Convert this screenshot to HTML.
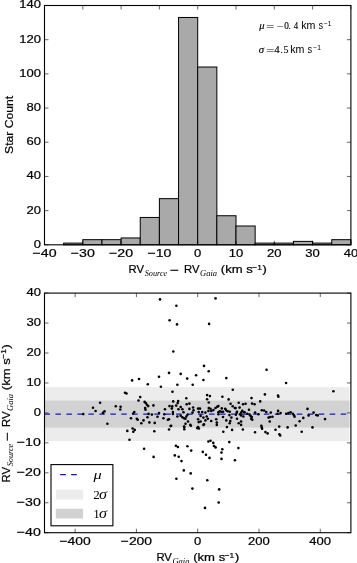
<!DOCTYPE html><html><head><meta charset="utf-8"><style>html,body{margin:0;padding:0;background:#fff;}svg{display:block;will-change:transform}text{stroke:#000;stroke-width:0.22px}text.s{stroke:none}text.m{stroke-width:0.12px}</style></head><body>
<svg width="357" height="563" viewBox="0 0 357 563" font-family='"Liberation Sans", sans-serif'>
<rect width="357" height="563" fill="#fff"/>
<rect x="63.65" y="243.09" width="19.15" height="1.71" fill="#a9a9a9" stroke="#000" stroke-width="1"/>
<rect x="82.80" y="239.67" width="19.15" height="5.13" fill="#a9a9a9" stroke="#000" stroke-width="1"/>
<rect x="101.95" y="239.67" width="19.15" height="5.13" fill="#a9a9a9" stroke="#000" stroke-width="1"/>
<rect x="121.10" y="237.96" width="19.15" height="6.84" fill="#a9a9a9" stroke="#000" stroke-width="1"/>
<rect x="140.25" y="217.45" width="19.15" height="27.35" fill="#a9a9a9" stroke="#000" stroke-width="1"/>
<rect x="159.40" y="198.65" width="19.15" height="46.15" fill="#a9a9a9" stroke="#000" stroke-width="1"/>
<rect x="178.55" y="17.47" width="19.15" height="227.34" fill="#a9a9a9" stroke="#000" stroke-width="1"/>
<rect x="197.70" y="67.03" width="19.15" height="177.77" fill="#a9a9a9" stroke="#000" stroke-width="1"/>
<rect x="216.85" y="215.74" width="19.15" height="29.06" fill="#a9a9a9" stroke="#000" stroke-width="1"/>
<rect x="236.00" y="226.00" width="19.15" height="18.80" fill="#a9a9a9" stroke="#000" stroke-width="1"/>
<rect x="255.15" y="243.09" width="19.15" height="1.71" fill="#a9a9a9" stroke="#000" stroke-width="1"/>
<rect x="274.30" y="243.09" width="19.15" height="1.71" fill="#a9a9a9" stroke="#000" stroke-width="1"/>
<rect x="293.45" y="241.38" width="19.15" height="3.42" fill="#a9a9a9" stroke="#000" stroke-width="1"/>
<rect x="312.60" y="243.09" width="19.15" height="1.71" fill="#a9a9a9" stroke="#000" stroke-width="1"/>
<rect x="331.75" y="239.67" width="19.15" height="5.13" fill="#a9a9a9" stroke="#000" stroke-width="1"/>
<line x1="44.50" y1="5.50" x2="44.50" y2="9.50" stroke="#000" stroke-width="0.6"/><line x1="44.50" y1="244.80" x2="44.50" y2="240.80" stroke="#000" stroke-width="0.6"/><line x1="82.80" y1="5.50" x2="82.80" y2="9.50" stroke="#000" stroke-width="0.6"/><line x1="82.80" y1="244.80" x2="82.80" y2="240.80" stroke="#000" stroke-width="0.6"/><line x1="121.10" y1="5.50" x2="121.10" y2="9.50" stroke="#000" stroke-width="0.6"/><line x1="121.10" y1="244.80" x2="121.10" y2="240.80" stroke="#000" stroke-width="0.6"/><line x1="159.40" y1="5.50" x2="159.40" y2="9.50" stroke="#000" stroke-width="0.6"/><line x1="159.40" y1="244.80" x2="159.40" y2="240.80" stroke="#000" stroke-width="0.6"/><line x1="197.70" y1="5.50" x2="197.70" y2="9.50" stroke="#000" stroke-width="0.6"/><line x1="197.70" y1="244.80" x2="197.70" y2="240.80" stroke="#000" stroke-width="0.6"/><line x1="236.00" y1="5.50" x2="236.00" y2="9.50" stroke="#000" stroke-width="0.6"/><line x1="236.00" y1="244.80" x2="236.00" y2="240.80" stroke="#000" stroke-width="0.6"/><line x1="274.30" y1="5.50" x2="274.30" y2="9.50" stroke="#000" stroke-width="0.6"/><line x1="274.30" y1="244.80" x2="274.30" y2="240.80" stroke="#000" stroke-width="0.6"/><line x1="312.60" y1="5.50" x2="312.60" y2="9.50" stroke="#000" stroke-width="0.6"/><line x1="312.60" y1="244.80" x2="312.60" y2="240.80" stroke="#000" stroke-width="0.6"/><line x1="350.90" y1="5.50" x2="350.90" y2="9.50" stroke="#000" stroke-width="0.6"/><line x1="350.90" y1="244.80" x2="350.90" y2="240.80" stroke="#000" stroke-width="0.6"/><line x1="44.50" y1="244.80" x2="48.50" y2="244.80" stroke="#000" stroke-width="0.6"/><line x1="350.90" y1="244.80" x2="346.90" y2="244.80" stroke="#000" stroke-width="0.6"/><line x1="44.50" y1="210.61" x2="48.50" y2="210.61" stroke="#000" stroke-width="0.6"/><line x1="350.90" y1="210.61" x2="346.90" y2="210.61" stroke="#000" stroke-width="0.6"/><line x1="44.50" y1="176.43" x2="48.50" y2="176.43" stroke="#000" stroke-width="0.6"/><line x1="350.90" y1="176.43" x2="346.90" y2="176.43" stroke="#000" stroke-width="0.6"/><line x1="44.50" y1="142.24" x2="48.50" y2="142.24" stroke="#000" stroke-width="0.6"/><line x1="350.90" y1="142.24" x2="346.90" y2="142.24" stroke="#000" stroke-width="0.6"/><line x1="44.50" y1="108.06" x2="48.50" y2="108.06" stroke="#000" stroke-width="0.6"/><line x1="350.90" y1="108.06" x2="346.90" y2="108.06" stroke="#000" stroke-width="0.6"/><line x1="44.50" y1="73.87" x2="48.50" y2="73.87" stroke="#000" stroke-width="0.6"/><line x1="350.90" y1="73.87" x2="346.90" y2="73.87" stroke="#000" stroke-width="0.6"/><line x1="44.50" y1="39.69" x2="48.50" y2="39.69" stroke="#000" stroke-width="0.6"/><line x1="350.90" y1="39.69" x2="346.90" y2="39.69" stroke="#000" stroke-width="0.6"/><line x1="44.50" y1="5.50" x2="48.50" y2="5.50" stroke="#000" stroke-width="0.6"/><line x1="350.90" y1="5.50" x2="346.90" y2="5.50" stroke="#000" stroke-width="0.6"/><rect x="44.50" y="5.50" width="306.40" height="239.30" fill="none" stroke="#000" stroke-width="1.1"/>
<text x="44.50" y="257.40" font-size="11.6" text-anchor="middle" textLength="24.05" lengthAdjust="spacingAndGlyphs">−40</text>
<text x="82.80" y="257.40" font-size="11.6" text-anchor="middle" textLength="24.05" lengthAdjust="spacingAndGlyphs">−30</text>
<text x="121.10" y="257.40" font-size="11.6" text-anchor="middle" textLength="24.05" lengthAdjust="spacingAndGlyphs">−20</text>
<text x="159.40" y="257.40" font-size="11.6" text-anchor="middle" textLength="24.05" lengthAdjust="spacingAndGlyphs">−10</text>
<text x="197.70" y="257.40" font-size="11.6" text-anchor="middle" textLength="7.25" lengthAdjust="spacingAndGlyphs">0</text>
<text x="236.00" y="257.40" font-size="11.6" text-anchor="middle" textLength="14.50" lengthAdjust="spacingAndGlyphs">10</text>
<text x="274.30" y="257.40" font-size="11.6" text-anchor="middle" textLength="14.50" lengthAdjust="spacingAndGlyphs">20</text>
<text x="312.60" y="257.40" font-size="11.6" text-anchor="middle" textLength="14.50" lengthAdjust="spacingAndGlyphs">30</text>
<text x="350.90" y="257.40" font-size="11.6" text-anchor="middle" textLength="14.50" lengthAdjust="spacingAndGlyphs">40</text>
<text x="40.90" y="247.70" font-size="11.6" text-anchor="end" textLength="7.25" lengthAdjust="spacingAndGlyphs">0</text>
<text x="40.90" y="213.51" font-size="11.6" text-anchor="end" textLength="14.50" lengthAdjust="spacingAndGlyphs">20</text>
<text x="40.90" y="179.33" font-size="11.6" text-anchor="end" textLength="14.50" lengthAdjust="spacingAndGlyphs">40</text>
<text x="40.90" y="145.14" font-size="11.6" text-anchor="end" textLength="14.50" lengthAdjust="spacingAndGlyphs">60</text>
<text x="40.90" y="110.96" font-size="11.6" text-anchor="end" textLength="14.50" lengthAdjust="spacingAndGlyphs">80</text>
<text x="40.90" y="76.77" font-size="11.6" text-anchor="end" textLength="21.75" lengthAdjust="spacingAndGlyphs">100</text>
<text x="40.90" y="42.59" font-size="11.6" text-anchor="end" textLength="21.75" lengthAdjust="spacingAndGlyphs">120</text>
<text x="40.90" y="8.40" font-size="11.6" text-anchor="end" textLength="21.75" lengthAdjust="spacingAndGlyphs">140</text>
<text transform="translate(12.9,124.9) rotate(-90)" font-size="11.6" text-anchor="middle" textLength="58" lengthAdjust="spacingAndGlyphs">Star Count</text>
<text x="261.80" y="28.80" font-size="10.6" class="m" font-family='"Liberation Serif", serif' font-style="italic" text-anchor="middle">μ</text>
<text x="266.30" y="30.10" font-size="9.6" class="m" font-family='"Liberation Serif", serif' font-style="normal" textLength="8.0" lengthAdjust="spacingAndGlyphs">=</text>
<text x="276.80" y="29.90" font-size="9.6" class="m" font-family='"Liberation Serif", serif' font-style="normal" textLength="6.6" lengthAdjust="spacingAndGlyphs">−</text>
<text x="284.30" y="28.80" font-size="9.6" class="m" font-family='"Liberation Serif", serif' font-style="normal" textLength="4.6" lengthAdjust="spacingAndGlyphs">0</text>
<text x="289.80" y="28.80" font-size="9.6" class="m" font-family='"Liberation Serif", serif' font-style="normal" text-anchor="middle">.</text>
<text x="293.70" y="28.80" font-size="9.6" class="m" font-family='"Liberation Serif", serif' font-style="normal" textLength="4.4" lengthAdjust="spacingAndGlyphs">4</text>
<text class="s" x="301.3" y="28.8" font-size="10" textLength="14.2" lengthAdjust="spacingAndGlyphs">km</text>
<text class="s" x="318.6" y="28.8" font-size="10" textLength="4.6" lengthAdjust="spacingAndGlyphs">s</text>
<text class="s" x="323.9" y="26.0" font-size="6.8" textLength="7.6" lengthAdjust="spacingAndGlyphs">−1</text>
<text x="261.50" y="52.60" font-size="10.799999999999999" class="m" font-family='"Liberation Serif", serif' font-style="italic" text-anchor="middle">σ</text>
<text x="266.30" y="53.90" font-size="9.6" class="m" font-family='"Liberation Serif", serif' font-style="normal" textLength="8.0" lengthAdjust="spacingAndGlyphs">=</text>
<text x="274.30" y="52.60" font-size="9.6" class="m" font-family='"Liberation Serif", serif' font-style="normal" textLength="5.4" lengthAdjust="spacingAndGlyphs">4</text>
<text x="281.60" y="52.60" font-size="9.6" class="m" font-family='"Liberation Serif", serif' font-style="normal" text-anchor="middle">.</text>
<text x="283.40" y="52.60" font-size="9.6" class="m" font-family='"Liberation Serif", serif' font-style="normal" textLength="5.0" lengthAdjust="spacingAndGlyphs">5</text>
<text class="s" x="290.3" y="52.6" font-size="10" textLength="14.2" lengthAdjust="spacingAndGlyphs">km</text>
<text class="s" x="307.6" y="52.6" font-size="10" textLength="4.6" lengthAdjust="spacingAndGlyphs">s</text>
<text class="s" x="313.3" y="49.8" font-size="6.8" textLength="7.6" lengthAdjust="spacingAndGlyphs">−1</text>
<text x="128.6" y="273.0" font-size="11.6" textLength="15.5" lengthAdjust="spacingAndGlyphs">RV</text><text x="144.7" y="276.2" font-size="8.9" class="s" font-family='"Liberation Serif", serif' font-style="italic" textLength="22.6" lengthAdjust="spacingAndGlyphs">Source</text><text x="169.9" y="274.2" font-size="11.6" textLength="9.0" lengthAdjust="spacingAndGlyphs">−</text><text x="184.0" y="273.0" font-size="11.6" textLength="15.5" lengthAdjust="spacingAndGlyphs">RV</text><text x="200.0" y="276.2" font-size="8.9" class="s" font-family='"Liberation Serif", serif' font-style="italic" textLength="17.0" lengthAdjust="spacingAndGlyphs">Gaia</text><text x="220.8" y="273.0" font-size="11.6" textLength="32" lengthAdjust="spacingAndGlyphs">(km s</text><text x="252.3" y="269.7" font-size="8" textLength="9.6" lengthAdjust="spacingAndGlyphs">−1</text><text x="262.3" y="273.0" font-size="11.6" textLength="4.6" lengthAdjust="spacingAndGlyphs">)</text>
<rect x="44.50" y="387.14" width="304.70" height="53.91" fill="#ececec"/>
<rect x="44.50" y="400.62" width="305.10" height="26.96" fill="#d2d2d2"/>
<line x1="44.50" y1="414.10" x2="350.90" y2="414.10" stroke="#1010ee" stroke-width="1.15" stroke-dasharray="5.5 5.47"/>
<g fill="#000">
<circle cx="160.0" cy="299.4" r="1.3"/>
<circle cx="176.4" cy="305.8" r="1.3"/>
<circle cx="215.5" cy="298.4" r="1.3"/>
<circle cx="169.6" cy="320.2" r="1.3"/>
<circle cx="177.0" cy="324.4" r="1.3"/>
<circle cx="209.1" cy="323.9" r="1.3"/>
<circle cx="173.3" cy="351.5" r="1.3"/>
<circle cx="204.0" cy="365.9" r="1.3"/>
<circle cx="208.7" cy="371.3" r="1.3"/>
<circle cx="266.6" cy="369.8" r="1.3"/>
<circle cx="226.3" cy="378.1" r="1.3"/>
<circle cx="203.4" cy="380.0" r="1.3"/>
<circle cx="132.1" cy="380.4" r="1.3"/>
<circle cx="139.0" cy="379.0" r="1.3"/>
<circle cx="147.8" cy="384.3" r="1.3"/>
<circle cx="159.0" cy="376.7" r="1.3"/>
<circle cx="169.0" cy="372.9" r="1.3"/>
<circle cx="180.7" cy="373.9" r="1.3"/>
<circle cx="196.1" cy="375.2" r="1.3"/>
<circle cx="187.2" cy="378.6" r="1.3"/>
<circle cx="160.9" cy="386.8" r="1.3"/>
<circle cx="177.4" cy="384.8" r="1.3"/>
<circle cx="192.7" cy="384.8" r="1.3"/>
<circle cx="172.5" cy="391.8" r="1.3"/>
<circle cx="186.3" cy="398.2" r="1.3"/>
<circle cx="125.0" cy="392.7" r="1.3"/>
<circle cx="126.5" cy="393.5" r="1.3"/>
<circle cx="140.2" cy="397.1" r="1.3"/>
<circle cx="232.8" cy="389.7" r="1.3"/>
<circle cx="207.1" cy="395.1" r="1.3"/>
<circle cx="209.9" cy="396.1" r="1.3"/>
<circle cx="222.4" cy="396.8" r="1.3"/>
<circle cx="207.1" cy="399.2" r="1.3"/>
<circle cx="228.6" cy="399.4" r="1.3"/>
<circle cx="264.9" cy="394.4" r="1.3"/>
<circle cx="251.5" cy="398.1" r="1.3"/>
<circle cx="278.0" cy="395.6" r="1.3"/>
<circle cx="278.4" cy="396.8" r="1.3"/>
<circle cx="286.1" cy="383.0" r="1.3"/>
<circle cx="333.4" cy="391.3" r="1.3"/>
<circle cx="83.3" cy="414.1" r="1.3"/>
<circle cx="93.0" cy="407.8" r="1.3"/>
<circle cx="95.6" cy="411.0" r="1.3"/>
<circle cx="100.1" cy="402.8" r="1.3"/>
<circle cx="102.9" cy="412.9" r="1.3"/>
<circle cx="104.5" cy="411.4" r="1.3"/>
<circle cx="107.4" cy="423.7" r="1.3"/>
<circle cx="115.8" cy="406.2" r="1.3"/>
<circle cx="120.6" cy="406.8" r="1.3"/>
<circle cx="120.3" cy="409.5" r="1.3"/>
<circle cx="138.5" cy="400.5" r="1.3"/>
<circle cx="144.6" cy="401.9" r="1.3"/>
<circle cx="145.8" cy="403.0" r="1.3"/>
<circle cx="146.9" cy="404.7" r="1.3"/>
<circle cx="148.2" cy="406.1" r="1.3"/>
<circle cx="153.4" cy="405.4" r="1.3"/>
<circle cx="145.2" cy="408.1" r="1.3"/>
<circle cx="145.5" cy="409.8" r="1.3"/>
<circle cx="134.3" cy="412.0" r="1.3"/>
<circle cx="133.2" cy="413.5" r="1.3"/>
<circle cx="148.6" cy="413.9" r="1.3"/>
<circle cx="151.9" cy="414.6" r="1.3"/>
<circle cx="159.0" cy="413.1" r="1.3"/>
<circle cx="131.0" cy="418.2" r="1.3"/>
<circle cx="136.8" cy="418.7" r="1.3"/>
<circle cx="137.7" cy="419.8" r="1.3"/>
<circle cx="147.5" cy="417.3" r="1.3"/>
<circle cx="143.5" cy="420.4" r="1.3"/>
<circle cx="141.3" cy="423.2" r="1.3"/>
<circle cx="149.4" cy="422.4" r="1.3"/>
<circle cx="154.7" cy="422.9" r="1.3"/>
<circle cx="157.5" cy="416.8" r="1.3"/>
<circle cx="173.2" cy="401.4" r="1.3"/>
<circle cx="178.2" cy="401.1" r="1.3"/>
<circle cx="177.7" cy="403.0" r="1.3"/>
<circle cx="186.7" cy="404.2" r="1.3"/>
<circle cx="189.4" cy="403.6" r="1.3"/>
<circle cx="169.5" cy="406.1" r="1.3"/>
<circle cx="172.3" cy="406.4" r="1.3"/>
<circle cx="171.8" cy="408.6" r="1.3"/>
<circle cx="176.2" cy="405.6" r="1.3"/>
<circle cx="180.7" cy="407.0" r="1.3"/>
<circle cx="178.5" cy="409.2" r="1.3"/>
<circle cx="182.4" cy="409.2" r="1.3"/>
<circle cx="189.4" cy="408.9" r="1.3"/>
<circle cx="193.1" cy="407.5" r="1.3"/>
<circle cx="193.6" cy="410.3" r="1.3"/>
<circle cx="192.5" cy="412.6" r="1.3"/>
<circle cx="198.1" cy="408.6" r="1.3"/>
<circle cx="198.7" cy="412.0" r="1.3"/>
<circle cx="165.0" cy="409.2" r="1.3"/>
<circle cx="164.3" cy="414.2" r="1.3"/>
<circle cx="172.9" cy="412.0" r="1.3"/>
<circle cx="172.9" cy="413.9" r="1.3"/>
<circle cx="183.5" cy="412.3" r="1.3"/>
<circle cx="187.5" cy="414.8" r="1.3"/>
<circle cx="186.3" cy="416.5" r="1.3"/>
<circle cx="177.4" cy="416.5" r="1.3"/>
<circle cx="180.7" cy="415.7" r="1.3"/>
<circle cx="182.4" cy="417.3" r="1.3"/>
<circle cx="184.1" cy="418.2" r="1.3"/>
<circle cx="185.5" cy="418.7" r="1.3"/>
<circle cx="163.4" cy="418.2" r="1.3"/>
<circle cx="167.8" cy="419.8" r="1.3"/>
<circle cx="169.0" cy="419.3" r="1.3"/>
<circle cx="188.0" cy="421.5" r="1.3"/>
<circle cx="185.5" cy="423.8" r="1.3"/>
<circle cx="190.3" cy="424.9" r="1.3"/>
<circle cx="171.2" cy="425.8" r="1.3"/>
<circle cx="184.1" cy="426.6" r="1.3"/>
<circle cx="198.1" cy="419.3" r="1.3"/>
<circle cx="198.7" cy="422.1" r="1.3"/>
<circle cx="198.1" cy="427.1" r="1.3"/>
<circle cx="235.6" cy="408.1" r="1.3"/>
<circle cx="238.7" cy="402.7" r="1.3"/>
<circle cx="200.0" cy="408.6" r="1.3"/>
<circle cx="202.2" cy="412.0" r="1.3"/>
<circle cx="200.6" cy="415.9" r="1.3"/>
<circle cx="203.4" cy="417.6" r="1.3"/>
<circle cx="206.7" cy="416.5" r="1.3"/>
<circle cx="207.8" cy="418.7" r="1.3"/>
<circle cx="205.4" cy="420.4" r="1.3"/>
<circle cx="200.6" cy="421.5" r="1.3"/>
<circle cx="203.9" cy="424.3" r="1.3"/>
<circle cx="211.2" cy="421.0" r="1.3"/>
<circle cx="216.2" cy="419.3" r="1.3"/>
<circle cx="216.8" cy="422.6" r="1.3"/>
<circle cx="216.8" cy="424.9" r="1.3"/>
<circle cx="223.0" cy="417.0" r="1.3"/>
<circle cx="226.3" cy="420.4" r="1.3"/>
<circle cx="231.4" cy="417.6" r="1.3"/>
<circle cx="230.3" cy="421.0" r="1.3"/>
<circle cx="229.7" cy="423.2" r="1.3"/>
<circle cx="237.0" cy="418.7" r="1.3"/>
<circle cx="238.7" cy="423.2" r="1.3"/>
<circle cx="226.9" cy="427.1" r="1.3"/>
<circle cx="235.9" cy="414.8" r="1.3"/>
<circle cx="260.2" cy="401.4" r="1.3"/>
<circle cx="243.1" cy="404.2" r="1.3"/>
<circle cx="245.6" cy="403.8" r="1.3"/>
<circle cx="252.1" cy="403.6" r="1.3"/>
<circle cx="254.6" cy="404.2" r="1.3"/>
<circle cx="249.0" cy="409.8" r="1.3"/>
<circle cx="242.2" cy="410.9" r="1.3"/>
<circle cx="243.9" cy="412.0" r="1.3"/>
<circle cx="240.0" cy="414.2" r="1.3"/>
<circle cx="241.1" cy="415.4" r="1.3"/>
<circle cx="243.4" cy="416.5" r="1.3"/>
<circle cx="247.3" cy="413.7" r="1.3"/>
<circle cx="249.5" cy="414.6" r="1.3"/>
<circle cx="250.6" cy="415.9" r="1.3"/>
<circle cx="251.8" cy="417.0" r="1.3"/>
<circle cx="251.2" cy="418.7" r="1.3"/>
<circle cx="252.3" cy="419.8" r="1.3"/>
<circle cx="255.1" cy="412.6" r="1.3"/>
<circle cx="258.5" cy="414.2" r="1.3"/>
<circle cx="261.8" cy="410.3" r="1.3"/>
<circle cx="264.1" cy="410.5" r="1.3"/>
<circle cx="266.3" cy="412.0" r="1.3"/>
<circle cx="270.8" cy="412.6" r="1.3"/>
<circle cx="268.6" cy="417.6" r="1.3"/>
<circle cx="270.3" cy="417.0" r="1.3"/>
<circle cx="272.5" cy="416.8" r="1.3"/>
<circle cx="269.7" cy="421.5" r="1.3"/>
<circle cx="241.1" cy="421.5" r="1.3"/>
<circle cx="241.1" cy="424.9" r="1.3"/>
<circle cx="261.3" cy="425.8" r="1.3"/>
<circle cx="261.8" cy="427.4" r="1.3"/>
<circle cx="278.1" cy="410.9" r="1.3"/>
<circle cx="277.5" cy="413.7" r="1.3"/>
<circle cx="279.2" cy="426.6" r="1.3"/>
<circle cx="280.6" cy="413.1" r="1.3"/>
<circle cx="286.2" cy="413.7" r="1.3"/>
<circle cx="288.4" cy="413.1" r="1.3"/>
<circle cx="290.6" cy="412.3" r="1.3"/>
<circle cx="292.9" cy="413.7" r="1.3"/>
<circle cx="294.0" cy="415.4" r="1.3"/>
<circle cx="294.6" cy="416.8" r="1.3"/>
<circle cx="303.3" cy="417.9" r="1.3"/>
<circle cx="299.6" cy="421.3" r="1.3"/>
<circle cx="295.7" cy="425.5" r="1.3"/>
<circle cx="287.6" cy="427.4" r="1.3"/>
<circle cx="307.5" cy="408.9" r="1.3"/>
<circle cx="308.6" cy="415.4" r="1.3"/>
<circle cx="313.6" cy="412.6" r="1.3"/>
<circle cx="316.2" cy="415.0" r="1.3"/>
<circle cx="317.7" cy="415.4" r="1.3"/>
<circle cx="312.5" cy="427.4" r="1.3"/>
<circle cx="325.0" cy="419.1" r="1.3"/>
<circle cx="127.3" cy="430.9" r="1.3"/>
<circle cx="132.6" cy="428.5" r="1.3"/>
<circle cx="134.7" cy="429.9" r="1.3"/>
<circle cx="133.3" cy="431.7" r="1.3"/>
<circle cx="154.3" cy="431.3" r="1.3"/>
<circle cx="169.0" cy="429.5" r="1.3"/>
<circle cx="129.5" cy="439.7" r="1.3"/>
<circle cx="144.1" cy="448.8" r="1.3"/>
<circle cx="153.6" cy="456.9" r="1.3"/>
<circle cx="170.6" cy="426.1" r="1.3"/>
<circle cx="184.3" cy="427.1" r="1.3"/>
<circle cx="184.3" cy="429.2" r="1.3"/>
<circle cx="190.9" cy="425.7" r="1.3"/>
<circle cx="197.2" cy="428.1" r="1.3"/>
<circle cx="198.9" cy="428.5" r="1.3"/>
<circle cx="203.5" cy="425.0" r="1.3"/>
<circle cx="175.9" cy="445.7" r="1.3"/>
<circle cx="177.9" cy="447.0" r="1.3"/>
<circle cx="187.4" cy="446.3" r="1.3"/>
<circle cx="191.2" cy="450.6" r="1.3"/>
<circle cx="174.8" cy="455.4" r="1.3"/>
<circle cx="178.7" cy="456.8" r="1.3"/>
<circle cx="181.5" cy="461.1" r="1.3"/>
<circle cx="202.8" cy="451.9" r="1.3"/>
<circle cx="206.0" cy="454.8" r="1.3"/>
<circle cx="209.5" cy="457.9" r="1.3"/>
<circle cx="208.4" cy="441.5" r="1.3"/>
<circle cx="210.5" cy="440.7" r="1.3"/>
<circle cx="213.3" cy="442.9" r="1.3"/>
<circle cx="214.0" cy="446.0" r="1.3"/>
<circle cx="215.6" cy="447.4" r="1.3"/>
<circle cx="223.3" cy="431.7" r="1.3"/>
<circle cx="232.1" cy="429.9" r="1.3"/>
<circle cx="242.9" cy="429.5" r="1.3"/>
<circle cx="255.1" cy="432.3" r="1.3"/>
<circle cx="229.3" cy="442.1" r="1.3"/>
<circle cx="222.3" cy="449.2" r="1.3"/>
<circle cx="221.5" cy="452.6" r="1.3"/>
<circle cx="238.4" cy="448.1" r="1.3"/>
<circle cx="221.5" cy="458.9" r="1.3"/>
<circle cx="234.9" cy="460.3" r="1.3"/>
<circle cx="262.1" cy="428.7" r="1.3"/>
<circle cx="265.4" cy="432.1" r="1.3"/>
<circle cx="267.6" cy="433.4" r="1.3"/>
<circle cx="275.5" cy="429.7" r="1.3"/>
<circle cx="279.4" cy="434.3" r="1.3"/>
<circle cx="280.2" cy="435.5" r="1.3"/>
<circle cx="301.7" cy="431.8" r="1.3"/>
<circle cx="183.8" cy="470.4" r="1.3"/>
<circle cx="190.7" cy="473.4" r="1.3"/>
<circle cx="176.4" cy="478.8" r="1.3"/>
<circle cx="207.3" cy="480.2" r="1.3"/>
<circle cx="192.4" cy="488.6" r="1.3"/>
<circle cx="219.2" cy="489.4" r="1.3"/>
<circle cx="218.7" cy="502.5" r="1.3"/>
<circle cx="205.0" cy="507.9" r="1.3"/>
<circle cx="208.8" cy="402.5" r="1.3"/>
<circle cx="208.8" cy="408.0" r="1.3"/>
<circle cx="210.5" cy="408.8" r="1.3"/>
<circle cx="208.4" cy="410.9" r="1.3"/>
<circle cx="211.3" cy="410.9" r="1.3"/>
<circle cx="213.4" cy="410.1" r="1.3"/>
<circle cx="215.5" cy="408.0" r="1.3"/>
<circle cx="217.2" cy="406.7" r="1.3"/>
<circle cx="218.4" cy="406.1" r="1.3"/>
<circle cx="221.8" cy="408.4" r="1.3"/>
<circle cx="218.4" cy="412.2" r="1.3"/>
<circle cx="219.7" cy="411.3" r="1.3"/>
<circle cx="221.4" cy="411.8" r="1.3"/>
<circle cx="223.1" cy="411.8" r="1.3"/>
<circle cx="225.2" cy="408.8" r="1.3"/>
<circle cx="226.0" cy="410.1" r="1.3"/>
<circle cx="227.7" cy="411.3" r="1.3"/>
<circle cx="229.8" cy="411.8" r="1.3"/>
<circle cx="218.4" cy="414.3" r="1.3"/>
<circle cx="230.6" cy="403.8" r="1.3"/>
<circle cx="232.7" cy="406.3" r="1.3"/>
<circle cx="234.8" cy="408.0" r="1.3"/>
<circle cx="229.4" cy="415.1" r="1.3"/>
<circle cx="205.4" cy="412.6" r="1.3"/>
<circle cx="239.6" cy="407.6" r="1.3"/>
<circle cx="237.0" cy="411.8" r="1.3"/>
<circle cx="236.6" cy="413.0" r="1.3"/>
<circle cx="241.2" cy="412.6" r="1.3"/>
<circle cx="244.6" cy="412.2" r="1.3"/>
</g>
<line x1="75.14" y1="293.10" x2="75.14" y2="297.10" stroke="#000" stroke-width="0.6"/><line x1="75.14" y1="532.70" x2="75.14" y2="528.70" stroke="#000" stroke-width="0.6"/><line x1="136.42" y1="293.10" x2="136.42" y2="297.10" stroke="#000" stroke-width="0.6"/><line x1="136.42" y1="532.70" x2="136.42" y2="528.70" stroke="#000" stroke-width="0.6"/><line x1="197.70" y1="293.10" x2="197.70" y2="297.10" stroke="#000" stroke-width="0.6"/><line x1="197.70" y1="532.70" x2="197.70" y2="528.70" stroke="#000" stroke-width="0.6"/><line x1="258.98" y1="293.10" x2="258.98" y2="297.10" stroke="#000" stroke-width="0.6"/><line x1="258.98" y1="532.70" x2="258.98" y2="528.70" stroke="#000" stroke-width="0.6"/><line x1="320.26" y1="293.10" x2="320.26" y2="297.10" stroke="#000" stroke-width="0.6"/><line x1="320.26" y1="532.70" x2="320.26" y2="528.70" stroke="#000" stroke-width="0.6"/><line x1="44.50" y1="532.70" x2="48.50" y2="532.70" stroke="#000" stroke-width="0.6"/><line x1="350.90" y1="532.70" x2="346.90" y2="532.70" stroke="#000" stroke-width="0.6"/><line x1="44.50" y1="502.75" x2="48.50" y2="502.75" stroke="#000" stroke-width="0.6"/><line x1="350.90" y1="502.75" x2="346.90" y2="502.75" stroke="#000" stroke-width="0.6"/><line x1="44.50" y1="472.80" x2="48.50" y2="472.80" stroke="#000" stroke-width="0.6"/><line x1="350.90" y1="472.80" x2="346.90" y2="472.80" stroke="#000" stroke-width="0.6"/><line x1="44.50" y1="442.85" x2="48.50" y2="442.85" stroke="#000" stroke-width="0.6"/><line x1="350.90" y1="442.85" x2="346.90" y2="442.85" stroke="#000" stroke-width="0.6"/><line x1="44.50" y1="412.90" x2="48.50" y2="412.90" stroke="#000" stroke-width="0.6"/><line x1="350.90" y1="412.90" x2="346.90" y2="412.90" stroke="#000" stroke-width="0.6"/><line x1="44.50" y1="382.95" x2="48.50" y2="382.95" stroke="#000" stroke-width="0.6"/><line x1="350.90" y1="382.95" x2="346.90" y2="382.95" stroke="#000" stroke-width="0.6"/><line x1="44.50" y1="353.00" x2="48.50" y2="353.00" stroke="#000" stroke-width="0.6"/><line x1="350.90" y1="353.00" x2="346.90" y2="353.00" stroke="#000" stroke-width="0.6"/><line x1="44.50" y1="323.05" x2="48.50" y2="323.05" stroke="#000" stroke-width="0.6"/><line x1="350.90" y1="323.05" x2="346.90" y2="323.05" stroke="#000" stroke-width="0.6"/><line x1="44.50" y1="293.10" x2="48.50" y2="293.10" stroke="#000" stroke-width="0.6"/><line x1="350.90" y1="293.10" x2="346.90" y2="293.10" stroke="#000" stroke-width="0.6"/><rect x="44.50" y="293.10" width="306.40" height="239.60" fill="none" stroke="#000" stroke-width="1.1"/>
<text x="75.14" y="544.60" font-size="11.6" text-anchor="middle" textLength="31.30" lengthAdjust="spacingAndGlyphs">−400</text>
<text x="136.42" y="544.60" font-size="11.6" text-anchor="middle" textLength="31.30" lengthAdjust="spacingAndGlyphs">−200</text>
<text x="197.70" y="544.60" font-size="11.6" text-anchor="middle" textLength="7.25" lengthAdjust="spacingAndGlyphs">0</text>
<text x="258.98" y="544.60" font-size="11.6" text-anchor="middle" textLength="21.75" lengthAdjust="spacingAndGlyphs">200</text>
<text x="320.26" y="544.60" font-size="11.6" text-anchor="middle" textLength="21.75" lengthAdjust="spacingAndGlyphs">400</text>
<text x="40.90" y="535.60" font-size="11.6" text-anchor="end" textLength="24.05" lengthAdjust="spacingAndGlyphs">−40</text>
<text x="40.90" y="505.65" font-size="11.6" text-anchor="end" textLength="24.05" lengthAdjust="spacingAndGlyphs">−30</text>
<text x="40.90" y="475.70" font-size="11.6" text-anchor="end" textLength="24.05" lengthAdjust="spacingAndGlyphs">−20</text>
<text x="40.90" y="445.75" font-size="11.6" text-anchor="end" textLength="24.05" lengthAdjust="spacingAndGlyphs">−10</text>
<text x="40.90" y="415.80" font-size="11.6" text-anchor="end" textLength="7.25" lengthAdjust="spacingAndGlyphs">0</text>
<text x="40.90" y="385.85" font-size="11.6" text-anchor="end" textLength="14.50" lengthAdjust="spacingAndGlyphs">10</text>
<text x="40.90" y="355.90" font-size="11.6" text-anchor="end" textLength="14.50" lengthAdjust="spacingAndGlyphs">20</text>
<text x="40.90" y="325.95" font-size="11.6" text-anchor="end" textLength="14.50" lengthAdjust="spacingAndGlyphs">30</text>
<text x="40.90" y="296.00" font-size="11.6" text-anchor="end" textLength="14.50" lengthAdjust="spacingAndGlyphs">40</text>
<rect x="51" y="464.6" width="61.9" height="61.2" fill="#fff" stroke="#000" stroke-width="1.1"/>
<line x1="60.2" y1="474.6" x2="76.9" y2="474.6" stroke="#1010ee" stroke-width="1.15" stroke-dasharray="5.7 5.2"/>
<rect x="55.8" y="489.7" width="27.3" height="9.8" fill="#ececec"/>
<rect x="55.8" y="508.7" width="27.3" height="9.8" fill="#d2d2d2"/>
<text x="93.6" y="478.5" font-size="12.5" class="s" font-family='"Liberation Serif", serif' font-style="italic" textLength="8.2" lengthAdjust="spacingAndGlyphs">μ</text>
<text x="93.3" y="498.8" font-size="13" class="s" font-family='"Liberation Serif", serif'>2</text><text x="98.9" y="498.9" font-size="13.6" class="s" font-family='"Liberation Serif", serif' font-style="italic" textLength="8.0" lengthAdjust="spacingAndGlyphs">σ</text>
<text x="93.3" y="517.6" font-size="13" class="s" font-family='"Liberation Serif", serif'>1</text><text x="98.9" y="517.7" font-size="13.6" class="s" font-family='"Liberation Serif", serif' font-style="italic" textLength="8.0" lengthAdjust="spacingAndGlyphs">σ</text>
<text x="156.4" y="561.0" font-size="11.6" textLength="15.5" lengthAdjust="spacingAndGlyphs">RV</text><text x="172.4" y="564.2" font-size="8.9" class="s" font-family='"Liberation Serif", serif' font-style="italic" textLength="17.0" lengthAdjust="spacingAndGlyphs">Gaia</text><text x="193.2" y="561.0" font-size="11.6" textLength="32" lengthAdjust="spacingAndGlyphs">(km s</text><text x="224.7" y="557.7" font-size="8" textLength="9.6" lengthAdjust="spacingAndGlyphs">−1</text><text x="234.7" y="561.0" font-size="11.6" textLength="4.6" lengthAdjust="spacingAndGlyphs">)</text>
<g transform="translate(9.6,482.4) rotate(-90)"><text x="0.0" y="0" font-size="11.6" textLength="15.5" lengthAdjust="spacingAndGlyphs">RV</text><text x="16.1" y="3.2" font-size="8.9" class="s" font-family='"Liberation Serif", serif' font-style="italic" textLength="22.6" lengthAdjust="spacingAndGlyphs">Source</text><text x="41.3" y="1.2" font-size="11.6" textLength="9.0" lengthAdjust="spacingAndGlyphs">−</text><text x="55.4" y="0" font-size="11.6" textLength="15.5" lengthAdjust="spacingAndGlyphs">RV</text><text x="71.4" y="3.2" font-size="8.9" class="s" font-family='"Liberation Serif", serif' font-style="italic" textLength="17.0" lengthAdjust="spacingAndGlyphs">Gaia</text><text x="92.2" y="0" font-size="11.6" textLength="32" lengthAdjust="spacingAndGlyphs">(km s</text><text x="123.7" y="-3.3" font-size="8" textLength="9.6" lengthAdjust="spacingAndGlyphs">−1</text><text x="133.7" y="0" font-size="11.6" textLength="4.6" lengthAdjust="spacingAndGlyphs">)</text></g>
</svg></body></html>
